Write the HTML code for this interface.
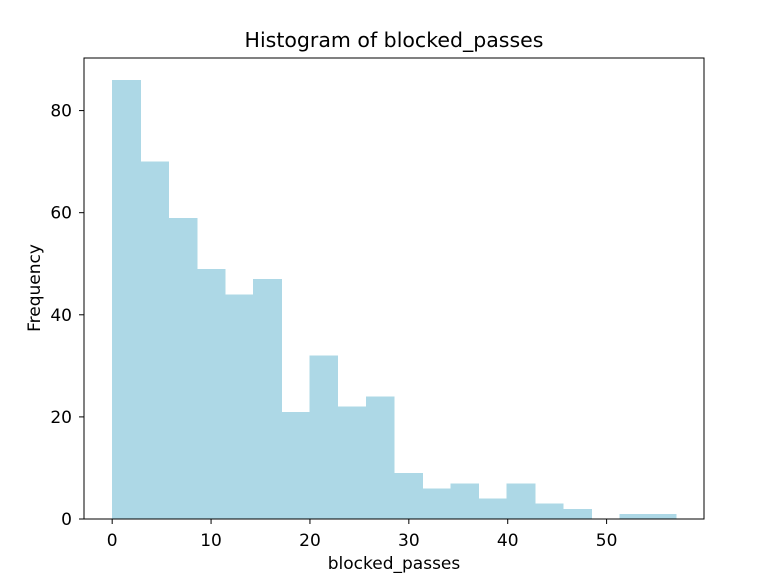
<!DOCTYPE html>
<html><head><meta charset="utf-8"><style>
body{margin:0;background:#fff;}
svg text{font-family:"DejaVu Sans","Liberation Sans",sans-serif;fill:#000;}
</style></head><body>
<svg id="chart" width="769" height="583" viewBox="0 0 769 583" xmlns="http://www.w3.org/2000/svg">
<rect width="769" height="583" fill="#fff"/>
<text x="394" y="47" font-size="20.5" text-anchor="middle">Histogram of blocked_passes</text>
<g id="bars" shape-rendering="crispEdges"></g>
<g id="axes"></g>
<text x="394" y="569" font-size="17" text-anchor="middle">blocked_passes</text>
<text x="40" y="288" font-size="17" text-anchor="middle" transform="rotate(-90 40 288)">Frequency</text>
</svg>
<script>
const binStart = 0;
const binEnd = 57;
const counts = [86,70,59,49,44,47,21,32,22,24,9,6,7,4,7,3,2,0,1,1];
const xTicks = [0,10,20,30,40,50];
const yTicks = [0,20,40,60,80];

const L=84,R=704,T=58,B=519;
const xMin=-2.85,xMax=59.85,yMax=90.3;
const xs=v=>L+(v-xMin)/(xMax-xMin)*(R-L);
const ys=v=>B-v/yMax*(B-T);
const NS="http://www.w3.org/2000/svg";
const bars=document.getElementById('bars');
const w=(binEnd-binStart)/counts.length;
counts.forEach((c,i)=>{
  if(c<=0) return;
  const r=document.createElementNS(NS,'rect');
  const x0=xs(binStart+i*w), x1=xs(binStart+(i+1)*w);
  r.setAttribute('x',x0);r.setAttribute('width',x1-x0+0.6);
  r.setAttribute('y',ys(c));r.setAttribute('height',B-ys(c));
  r.setAttribute('fill','#add8e6');
  
  
  bars.appendChild(r);
});
const ax=document.getElementById('axes');
const frame=document.createElementNS(NS,'rect');
frame.setAttribute('x',L);frame.setAttribute('y',T);frame.setAttribute('width',R-L);frame.setAttribute('height',B-T);
frame.setAttribute('fill','none');frame.setAttribute('stroke','#000');frame.setAttribute('stroke-width','1');


ax.appendChild(frame);
xTicks.forEach(t=>{
  const x=xs(t);
  const l=document.createElementNS(NS,'line');
  l.setAttribute('x1',x);l.setAttribute('x2',x);l.setAttribute('y1',B);l.setAttribute('y2',B+5);l.setAttribute('stroke','#000');
  
  
  ax.appendChild(l);
  const tx=document.createElementNS(NS,'text');
  tx.setAttribute('x',x);tx.setAttribute('y',B+27);tx.setAttribute('font-size','17');tx.setAttribute('text-anchor','middle');
  tx.textContent=t;
  
  
  ax.appendChild(tx);
});
yTicks.forEach(t=>{
  const y=ys(t);
  const l=document.createElementNS(NS,'line');
  l.setAttribute('x1',L-5);l.setAttribute('x2',L);l.setAttribute('y1',y);l.setAttribute('y2',y);l.setAttribute('stroke','#000');
  
  
  ax.appendChild(l);
  const tx=document.createElementNS(NS,'text');
  tx.setAttribute('x',L-12);tx.setAttribute('y',y+6);tx.setAttribute('font-size','17');tx.setAttribute('text-anchor','end');
  tx.textContent=t;
  
  
  ax.appendChild(tx);
});
</script>
</body></html>
